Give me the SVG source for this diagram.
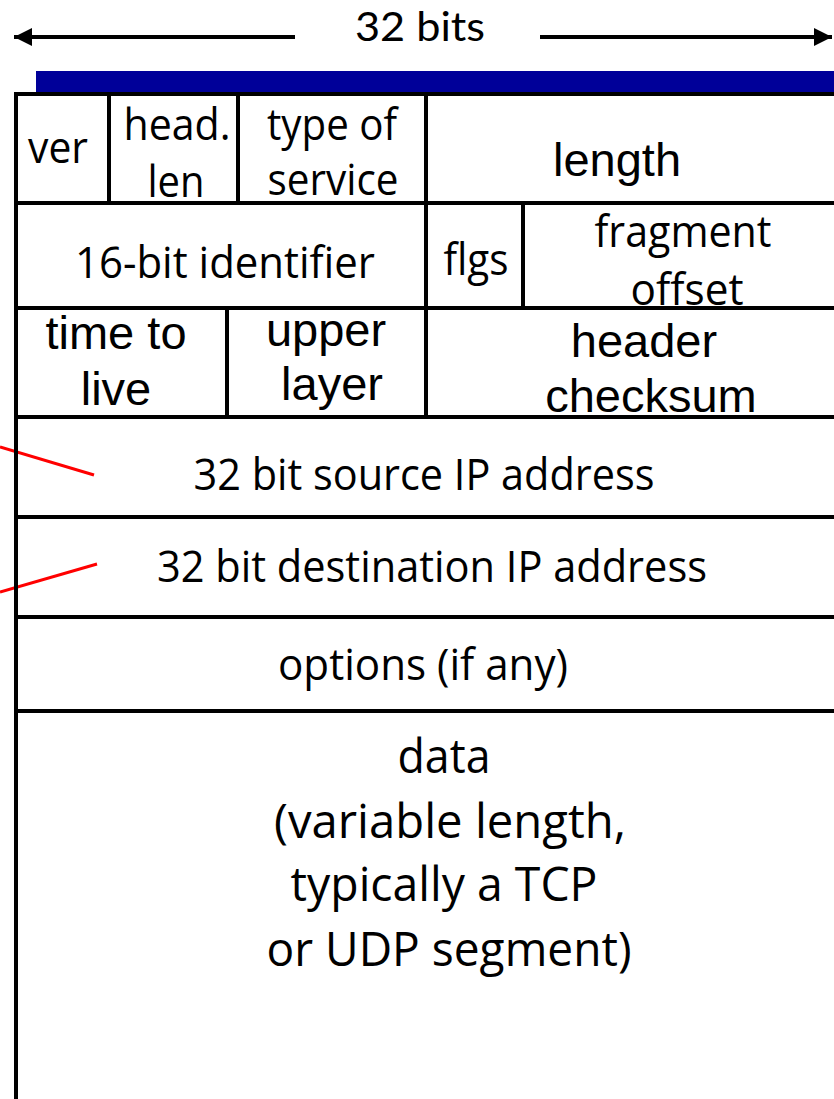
<svg xmlns="http://www.w3.org/2000/svg" width="834" height="1099" viewBox="0 0 834 1099">
<style>
.c{font-family:"Open Sans","Noto Sans","Liberation Sans",sans-serif;font-size:44px;fill:#000;text-anchor:middle}
.d{font-size:47px}
.t{font-family:Lato,"Open Sans",sans-serif;font-size:41px}
.a{font-family:"Liberation Sans",Arial,sans-serif;font-size:47px;fill:#000;text-anchor:middle}
.ln{stroke:#000;stroke-width:4;fill:none}
.red{stroke:#FF0000;stroke-width:3;fill:none}
</style>
<defs>
<marker id="ah" viewBox="0 0 10 10" refX="10" refY="5" markerWidth="4.5" markerHeight="4.5" markerUnits="strokeWidth" orient="auto-start-reverse">
<path d="M0,0 L10,5 L0,10 z" fill="#000"/>
</marker>
</defs>
<rect width="834" height="1099" fill="#fff"/>

<g id="width-label">
<text class="c t" x="420" y="41" textLength="130" lengthAdjust="spacingAndGlyphs">32 bits</text>
</g>

<g id="connectors">
<line class="ln" x1="295" y1="37" x2="14" y2="37" marker-end="url(#ah)"/>
<line class="ln" x1="540" y1="37" x2="832" y2="37" marker-end="url(#ah)"/>
<line class="red" x1="0" y1="447" x2="94" y2="475"/>
<line class="red" x1="0" y1="592" x2="97" y2="564"/>
</g>

<g id="blue-bar">
<rect x="36" y="71" width="798" height="21" fill="#000099"/>
</g>

<g id="table-frame">
<line class="ln" x1="14" y1="94" x2="834" y2="94"/>
<line class="ln" x1="16" y1="92" x2="16" y2="1099"/>
<line class="ln" x1="16" y1="203" x2="834" y2="203"/>
<line class="ln" x1="16" y1="308" x2="834" y2="308"/>
<line class="ln" x1="16" y1="417" x2="834" y2="417"/>
<line class="ln" x1="16" y1="517" x2="834" y2="517"/>
<line class="ln" x1="16" y1="617" x2="834" y2="617"/>
<line class="ln" x1="16" y1="711" x2="834" y2="711"/>
<line class="ln" x1="426" y1="94" x2="426" y2="417"/>
<line class="ln" x1="109" y1="94" x2="109" y2="203"/>
<line class="ln" x1="238" y1="94" x2="238" y2="203"/>
<line class="ln" x1="523" y1="203" x2="523" y2="308"/>
<line class="ln" x1="227" y1="308" x2="227" y2="417"/>
</g>

<g id="ver"><text class="c" x="58" y="163" textLength="60" lengthAdjust="spacingAndGlyphs">ver</text></g>
<g id="head-len">
<text class="c" x="177" y="140" textLength="107" lengthAdjust="spacingAndGlyphs">head.</text>
<text class="c" x="176" y="197" textLength="57" lengthAdjust="spacingAndGlyphs">len</text>
</g>
<g id="type-of-service">
<text class="c" x="332" y="140" textLength="130" lengthAdjust="spacingAndGlyphs">type of</text>
<text class="c" x="333" y="195" textLength="131" lengthAdjust="spacingAndGlyphs">service</text>
</g>
<g id="length"><text class="a" x="617" y="176">length</text></g>

<g id="identifier"><text class="c" x="225" y="278" textLength="300" lengthAdjust="spacingAndGlyphs">16-bit identifier</text></g>
<g id="flgs"><text class="c" x="476" y="275" textLength="65" lengthAdjust="spacingAndGlyphs">flgs</text></g>
<g id="fragment-offset">
<text class="c" x="683" y="247" textLength="177" lengthAdjust="spacingAndGlyphs">fragment</text>
<text class="c" x="687" y="305" textLength="113" lengthAdjust="spacingAndGlyphs">offset</text>
</g>

<g id="time-to-live">
<text class="a" x="116" y="349">time to</text>
<text class="a" x="116" y="405">live</text>
</g>
<g id="upper-layer">
<text class="a" x="326" y="346">upper</text>
<text class="a" x="332" y="400">layer</text>
</g>
<g id="header-checksum">
<text class="a" x="644" y="357">header</text>
<text class="a" x="651" y="412">checksum</text>
</g>

<g id="source-ip"><text class="c" x="424" y="490" textLength="461" lengthAdjust="spacingAndGlyphs">32 bit source IP address</text></g>
<g id="destination-ip"><text class="c" x="432" y="582" textLength="550" lengthAdjust="spacingAndGlyphs">32 bit destination IP address</text></g>
<g id="options"><text class="c" x="423" y="680" textLength="290" lengthAdjust="spacingAndGlyphs">options (if any)</text></g>

<g id="data">
<text class="c d" x="444" y="773" textLength="93" lengthAdjust="spacingAndGlyphs">data</text>
<text class="c d" x="450" y="838" textLength="352" lengthAdjust="spacingAndGlyphs">(variable length,</text>
<text class="c d" x="444" y="901" textLength="307" lengthAdjust="spacingAndGlyphs">typically a TCP</text>
<text class="c d" x="449" y="966" textLength="365" lengthAdjust="spacingAndGlyphs">or UDP segment)</text>
</g>
</svg>
